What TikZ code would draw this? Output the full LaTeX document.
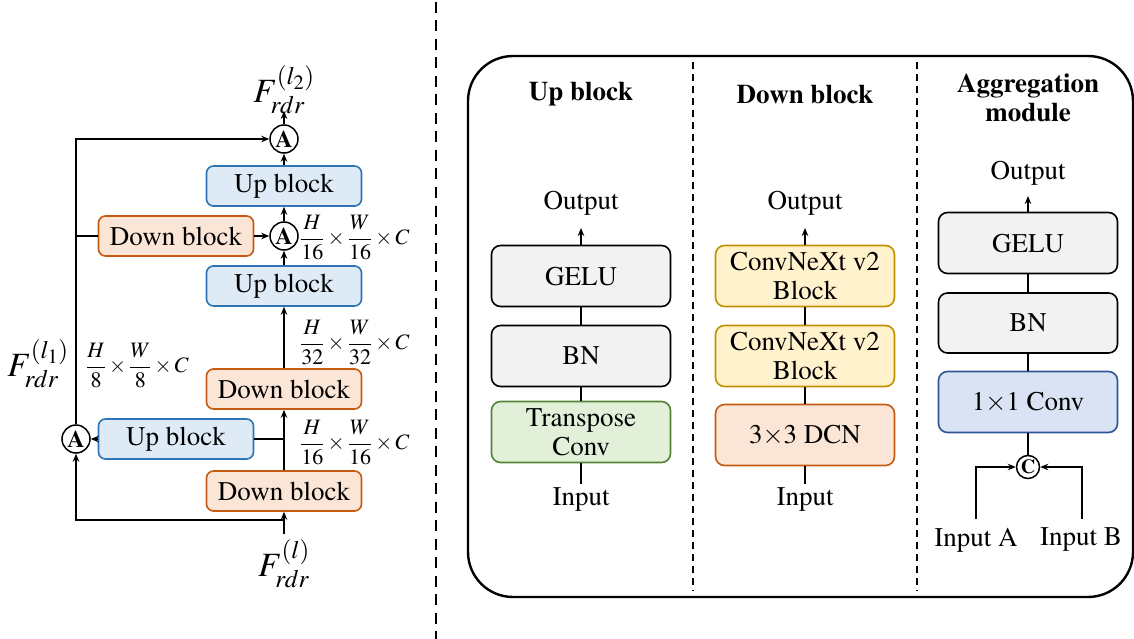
\documentclass[tikz,border=0pt]{standalone}
\usepackage[T1]{fontenc}
\usepackage{mathptmx}
\usetikzlibrary{arrows.meta}

\definecolor{upfill}{HTML}{DEEBF7}
\definecolor{updraw}{HTML}{2E75B6}
\definecolor{downfill}{HTML}{FBE5D6}
\definecolor{downdraw}{HTML}{C55A11}
\definecolor{greyfill}{HTML}{F2F2F2}
\definecolor{greenfill}{HTML}{E2F0D9}
\definecolor{greendraw}{HTML}{548235}
\definecolor{yellowfill}{HTML}{FFF2CC}
\definecolor{yellowdraw}{HTML}{BF9000}
\definecolor{convfill}{HTML}{DAE3F3}
\definecolor{convdraw}{HTML}{2F5597}

\begin{document}
\begin{tikzpicture}[x=1pt,y=-1pt,
  font=\fontsize{27}{31}\selectfont,
  box/.style={draw, line width=1.6pt, rounded corners=7pt, minimum width=155pt,
    minimum height=40pt, inner sep=0pt, align=center},
  upbox/.style={box, fill=upfill, draw=updraw},
  downbox/.style={box, fill=downfill, draw=downdraw},
  opbox/.style={draw, line width=1.6pt, rounded corners=9pt, minimum width=179pt,
    minimum height=61pt, inner sep=0pt, align=center},
  greybox/.style={opbox, fill=greyfill, draw=black},
  greenbox/.style={opbox, fill=greenfill, draw=greendraw},
  yellowbox/.style={opbox, fill=yellowfill, draw=yellowdraw},
  dcnbox/.style={opbox, fill=downfill, draw=downdraw},
  convbox/.style={opbox, fill=convfill, draw=convdraw},
  aggnode/.style={circle, draw, fill=white, line width=1.5pt, inner sep=0pt,
    minimum size=28pt, font=\fontsize{24}{24}\selectfont\bfseries},
  catnode/.style={circle, draw, fill=white, line width=1.5pt, inner sep=0pt,
    minimum size=23pt, font=\fontsize{20}{20}\selectfont\bfseries},
  arr/.style={-{Stealth[length=8pt,width=6.5pt]}, line width=1.8pt},
  ln/.style={line width=1.8pt},
  dimlabel/.style={font=\fontsize{22}{22}\selectfont, inner sep=0pt, anchor=west},
  feat/.style={font=\fontsize{34}{34}\selectfont, inner sep=0pt},
  title/.style={font=\fontsize{27}{31}\selectfont\bfseries, align=center},
  plain/.style={inner sep=0pt}]

\useasboundingbox (0,0) rectangle (1134,639);

% ---------- left: stacked up/down structure ----------
\node[aggnode] (a2) at (284,139) {A};
\node[upbox] (ub3) at (284,186) {Up block};
\node[downbox] (db3) at (176,236) {Down block};
\node[aggnode] (a1) at (284,236) {A};
\node[upbox] (ub2) at (284,286) {Up block};
\node[downbox] (db2) at (284,389) {Down block};
\node[upbox] (ub1) at (176,439) {Up block};
\node[aggnode] (a0) at (76,439) {A};
\node[downbox] (db1) at (284,491) {Down block};

\node[feat] (fin) at (284,564) {$F_{rdr}^{(l)}$};
\node[feat] (fout) at (284,90) {$F_{rdr}^{(l_2)}$};
\node[feat] (fmid) at (38,364) {$F_{rdr}^{(l_1)}$};

\node[dimlabel] (d1) at (300,238) {$\displaystyle\frac{H}{16}\times\frac{W}{16}\times C$};
\node[dimlabel] (d2) at (300,343) {$\displaystyle\frac{H}{32}\times\frac{W}{32}\times C$};
\node[dimlabel] (d3) at (300,443) {$\displaystyle\frac{H}{16}\times\frac{W}{16}\times C$};
\node[dimlabel] (d4) at (86,366) {$\displaystyle\frac{H}{8}\times\frac{W}{8}\times C$};

\coordinate (src) at (284,534);
\coordinate (split) at (284,520);
\coordinate (tap) at (284,439);
\coordinate (branch) at (76,236);
\coordinate (outtip) at (284,111);

\draw[arr] (src) -- (db1);
\draw[arr] (split) -| (a0);
\draw[arr] (db1) -- (db2);
\draw[ln] (tap) -- (ub1);
\draw[arr] (ub1) -- (a0);
\draw[arr] (db2) -- (ub2);
\draw[arr] (ub2) -- (a1);
\draw[arr] (a1) -- (ub3);
\draw[arr] (ub3) -- (a2);
\draw[arr] (a2) -- (outtip);
\draw[arr] (a0.north) |- (a2);
\draw[ln] (branch) -- (db3);
\draw[arr] (db3) -- (a1);

% separator
\draw[line width=2.6pt, dash pattern=on 11pt off 7.5pt] (436,2) -- (436,639);

% ---------- right: module details ----------
\draw[line width=2.4pt, rounded corners=45pt] (468,56) rectangle (1133,597);
\draw[line width=1.3pt, dash pattern=on 7pt off 5pt] (693,62) -- (693,591);
\draw[line width=1.3pt, dash pattern=on 7pt off 5pt] (917,62) -- (917,591);

\node[title] (t1) at (581,94) {Up block};
\node[title] (t2) at (805,94) {Down block};
\node[title] (t3) at (1028,98) {Aggregation\\[-2pt]module};

% up block
\node[plain] (uout) at (581,203) {Output};
\node[greybox] (ugelu) at (581,276) {GELU};
\node[greybox] (ubn) at (581,356) {BN};
\node[greenbox] (utc) at (581,432) {Transpose\\[-2pt]Conv};
\node[plain] (uin) at (581,500) {Input};
\coordinate (uotip) at (581,228);
\coordinate (uiend) at (581,484);
\draw[arr] (ugelu) -- (uotip);
\draw[ln] (ugelu) -- (ubn);
\draw[ln] (ubn) -- (utc);
\draw[ln] (utc) -- (uiend);

% down block
\node[plain] (dout) at (805,203) {Output};
\node[yellowbox] (dcx1) at (805,276) {ConvNeXt v2\\[-2pt]Block};
\node[yellowbox] (dcx2) at (805,356) {ConvNeXt v2\\[-2pt]Block};
\node[dcnbox] (ddcn) at (805,435) {3$\times$3 DCN};
\node[plain] (din) at (805,500) {Input};
\coordinate (dotip) at (805,228);
\coordinate (diend) at (805,484);
\draw[arr] (dcx1) -- (dotip);
\draw[ln] (dcx1) -- (dcx2);
\draw[ln] (dcx2) -- (ddcn);
\draw[ln] (ddcn) -- (diend);

% aggregation module
\node[plain] (aout) at (1028,173) {Output};
\node[greybox, minimum height=61pt] (agelu) at (1028,243) {GELU};
\node[greybox, minimum height=60pt] (abn) at (1028,323) {BN};
\node[convbox] (aconv) at (1028,402) {1$\times$1 Conv};
\node[catnode] (acat) at (1028,467) {C};
\node[plain] (ina) at (976,540) {Input A};
\node[plain] (inb) at (1081,540) {Input B};
\coordinate (aotip) at (1028,196);
\coordinate (astartA) at (976,519);
\coordinate (astartB) at (1082,519);
\draw[arr] (agelu) -- (aotip);
\draw[ln] (agelu) -- (abn);
\draw[ln] (abn) -- (aconv);
\draw[ln] (aconv) -- (acat);
\draw[arr] (astartA) |- (acat);
\draw[arr] (astartB) |- (acat);

\end{tikzpicture}
\end{document}
